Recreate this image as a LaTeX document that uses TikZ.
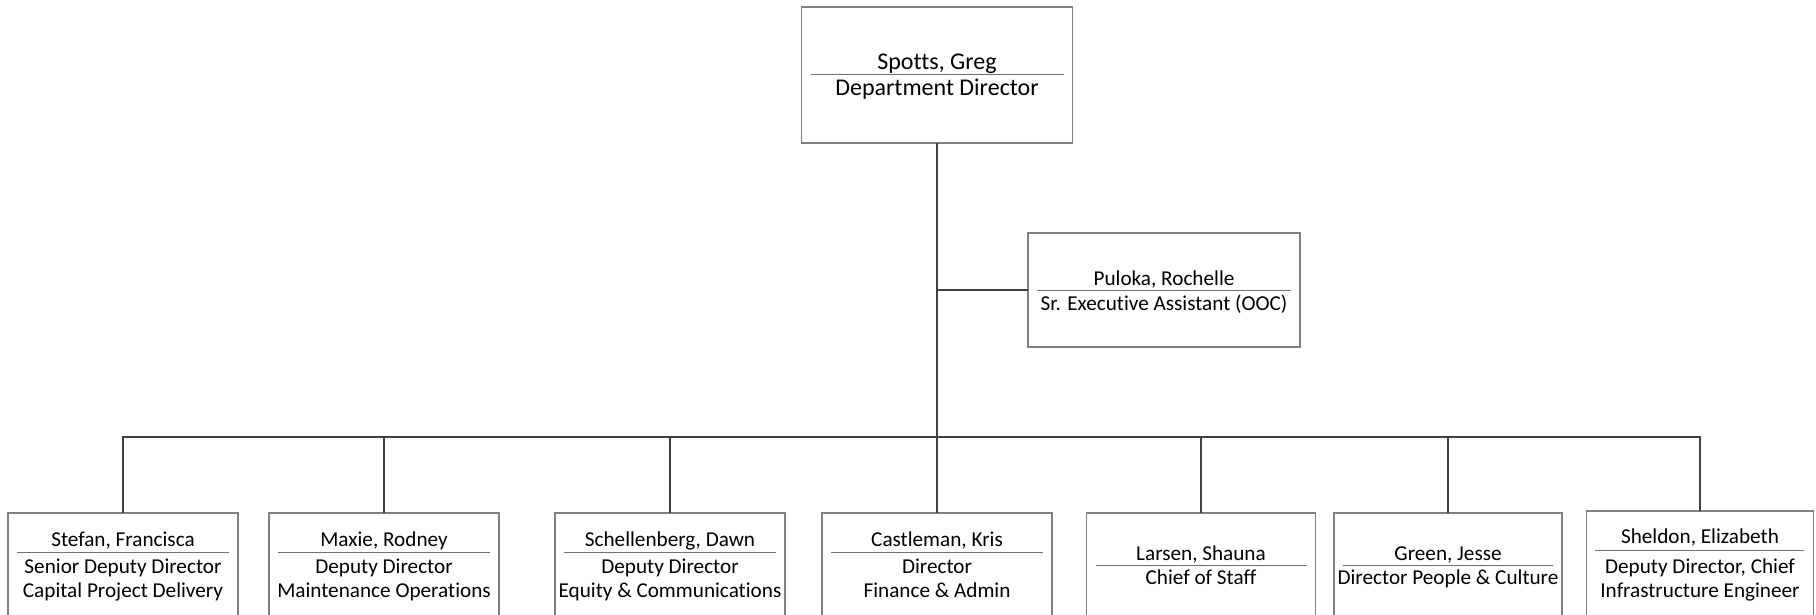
\documentclass[tikz,border=0pt]{standalone}
\usepackage{fontspec}
\setmainfont{Carlito}[Ligatures={NoCommon}]
\definecolor{boxc}{HTML}{808080}
\definecolor{linec}{HTML}{404040}
\definecolor{rulec}{HTML}{707070}
\begin{document}
\begin{tikzpicture}[x=1pt,y=-1pt,
  box/.style={draw=boxc, line width=1.2pt, rectangle, inner sep=0pt, outer sep=0pt},
  big/.style={anchor=base, inner sep=0pt, font=\fontsize{24}{28}\selectfont},
  txt/.style={anchor=base, inner sep=0pt, font=\fontsize{21.2}{25}\selectfont},
  rule/.style={draw=rulec, line width=1pt},
  link/.style={draw=linec, line width=1.5pt}]
\useasboundingbox (0,0) rectangle (1816,615);
\clip (0,0) rectangle (1816,615);
\fill[white] (0,0) rectangle (1816,615);

% top
\node[box, minimum width=271pt, minimum height=136pt] (greg) at (937,75) {};
\node[big] (gregN) at (937,70) {Spotts, Greg};
\draw[rule] (811,75) -- (1064,75);
\node[big] (gregT) at (937,96) {Department Director};

% assistant
\node[box, minimum width=272pt, minimum height=114pt] (rochelle) at (1164,290) {};
\node[txt] (rochelleN) at (1164,285) {Puloka, Rochelle};
\draw[rule] (1037,290) -- (1291,290);
\node[txt] (rochelleT) at (1164,310) {Sr. Executive Assistant (OOC)};

% bottom row
\node[box, minimum width=230pt, minimum height=107pt] (francisca) at (123,566.5) {};
\node[txt] (franciscaN) at (123,546) {Stefan, Francisca};
\draw[rule] (17,552) -- (229,552);
\node[txt] (franciscaT1) at (123,573) {Senior Deputy Director};
\node[txt] (franciscaT2) at (123,597) {Capital Project Delivery};

\node[box, minimum width=230pt, minimum height=107pt] (rodney) at (384,566.5) {};
\node[txt] (rodneyN) at (384,546) {Maxie, Rodney};
\draw[rule] (278,552) -- (490,552);
\node[txt] (rodneyT1) at (384,573) {Deputy Director};
\node[txt] (rodneyT2) at (384,597) {Maintenance Operations};

\node[box, minimum width=230pt, minimum height=107pt] (dawn) at (670,566.5) {};
\node[txt] (dawnN) at (670,546) {Schellenberg, Dawn};
\draw[rule] (564,552) -- (776,552);
\node[txt] (dawnT1) at (670,573) {Deputy Director};
\node[txt] (dawnT2) at (670,597) {Equity \& Communications};

\node[box, minimum width=230pt, minimum height=107pt] (kris) at (937,566.5) {};
\node[txt] (krisN) at (937,546) {Castleman, Kris};
\draw[rule] (831,552) -- (1043,552);
\node[txt] (krisT1) at (937,573) {Director};
\node[txt] (krisT2) at (937,597) {Finance \& Admin};

\node[box, minimum width=229pt, minimum height=107pt] (shauna) at (1201,566.5) {};
\node[txt] (shaunaN) at (1201,560) {Larsen, Shauna};
\draw[rule] (1096,565) -- (1307,565);
\node[txt] (shaunaT) at (1201,584) {Chief of Staff};

\node[box, minimum width=228pt, minimum height=107pt] (jesse) at (1448,566.5) {};
\node[txt] (jesseN) at (1448,560) {Green, Jesse};
\draw[rule] (1343,565) -- (1553,565);
\node[txt] (jesseT) at (1448,584) {Director People \& Culture};

\node[box, minimum width=227pt, minimum height=109pt] (elizabeth) at (1700,565.5) {};
\node[txt] (elizabethN) at (1700,543) {Sheldon, Elizabeth};
\draw[rule] (1595,550) -- (1804,550);
\node[txt] (elizabethT1) at (1700,573) {Deputy Director, Chief};
\node[txt] (elizabethT2) at (1700,597) {Infrastructure Engineer};

% connectors
\coordinate (bar) at (937,437);
\coordinate (tj) at (greg.south |- rochelle.west);
\draw[link, line width=1.8pt] (greg.south) -- (kris.north);
\draw[link] (tj) -- (rochelle.west);
\draw[link] (francisca.north) -- (francisca.north |- bar) -- (elizabeth.north |- bar) -- (elizabeth.north);
\draw[link] (rodney.north) -- (rodney.north |- bar);
\draw[link] (dawn.north) -- (dawn.north |- bar);
\draw[link] (shauna.north) -- (shauna.north |- bar);
\draw[link] (jesse.north) -- (jesse.north |- bar);
\end{tikzpicture}
\end{document}
